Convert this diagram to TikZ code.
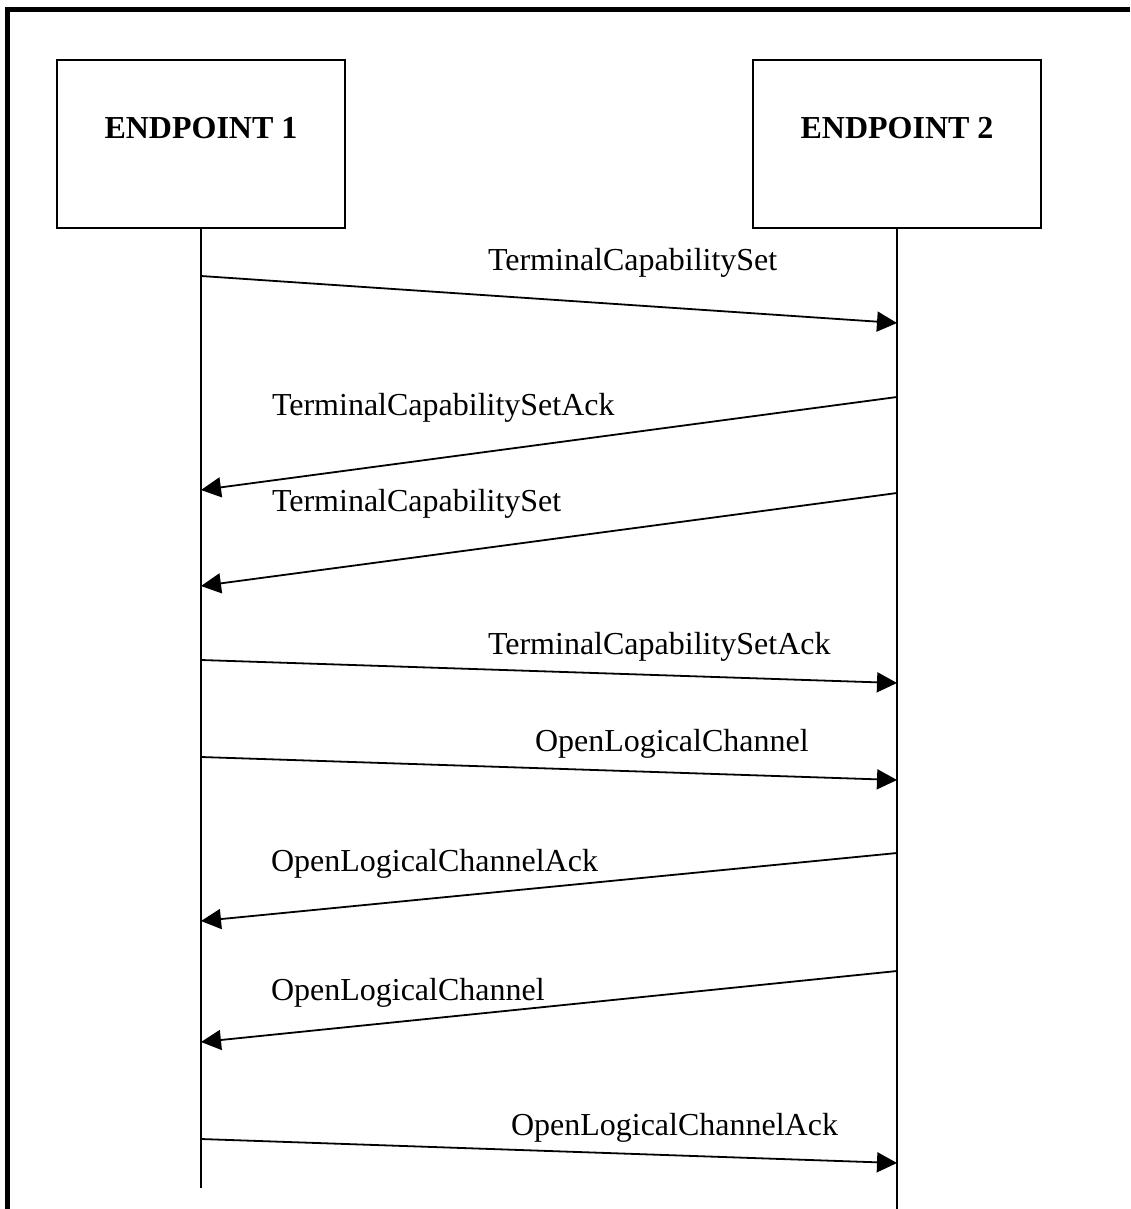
\documentclass[tikz,border=0pt]{standalone}
\usepackage{fontspec}
\setmainfont{Liberation Serif}
\usetikzlibrary{arrows.meta}
\begin{document}
\begin{tikzpicture}[x=1pt,y=-1pt,
  line width=2pt,
  entity/.style={draw, rectangle, minimum width=288pt, minimum height=168pt, inner sep=0pt},
  entitytitle/.style={anchor=base, inner sep=0pt, font=\fontsize{32}{38}\selectfont\bfseries},
  lifeline/.style={line width=1.8pt},
  msg/.style={line width=1.8pt, -{Triangle[length=20pt,width=20pt]}},
  msglabel/.style={anchor=base west, inner sep=0pt, font=\fontsize{32}{38}\selectfont}]
  % page area
  \useasboundingbox (0,0) rectangle (1130,1209);
  % outer frame (left and top edges)
  \draw[line width=4.5pt] (7.5,1209) -- (7.5,9.5) -- (1130,9.5);

  % the two endpoints
  \node[entity] (ep1) at (201,144) {};
  \node[entity] (ep2) at (897,144) {};
  \node[entitytitle] (t1) at (201,139) {ENDPOINT 1};
  \node[entitytitle] (t2) at (897,139) {ENDPOINT 2};

  % lifelines
  \coordinate (end1) at (201,1188);
  \coordinate (end2) at (897,1209);
  \draw[lifeline] (ep1.south) -- (end1);
  \draw[lifeline] (ep2.south) -- (end2);

  % message end points on the lifelines
  \coordinate (a1) at (201,276);  \coordinate (b1) at (897,323);
  \coordinate (b2) at (897,397);  \coordinate (a2) at (201,490);
  \coordinate (b3) at (897,493);  \coordinate (a3) at (201,586);
  \coordinate (a4) at (201,660);  \coordinate (b4) at (897,683);
  \coordinate (a5) at (201,757);  \coordinate (b5) at (897,780);
  \coordinate (b6) at (897,853);  \coordinate (a6) at (201,921);
  \coordinate (b7) at (897,971);  \coordinate (a7) at (201,1042);
  \coordinate (a8) at (201,1139); \coordinate (b8) at (897,1163);

  % messages
  \draw[msg] (a1) -- (b1);
  \draw[msg] (b2) -- (a2);
  \draw[msg] (b3) -- (a3);
  \draw[msg] (a4) -- (b4);
  \draw[msg] (a5) -- (b5);
  \draw[msg] (b6) -- (a6);
  \draw[msg] (b7) -- (a7);
  \draw[msg] (a8) -- (b8);

  % message labels
  \node[msglabel] (l1) at (487,270)  {TerminalCapabilitySet};
  \node[msglabel] (l2) at (271,415)  {TerminalCapabilitySetAck};
  \node[msglabel] (l3) at (271,511)  {TerminalCapabilitySet};
  \node[msglabel] (l4) at (487,654)  {TerminalCapabilitySetAck};
  \node[msglabel] (l5) at (534,751)  {OpenLogicalChannel};
  \node[msglabel] (l6) at (270,871)  {OpenLogicalChannelAck};
  \node[msglabel] (l7) at (270,1000) {OpenLogicalChannel};
  \node[msglabel] (l8) at (510,1135) {OpenLogicalChannelAck};
\end{tikzpicture}
\end{document}
